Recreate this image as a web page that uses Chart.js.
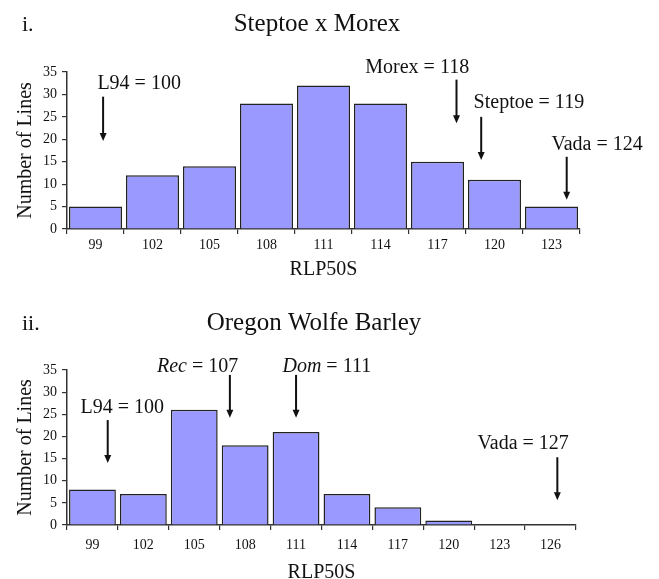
<!DOCTYPE html>
<html><head><meta charset="utf-8">
<script src="https://cdn.jsdelivr.net/npm/chart.js@4.4.1/dist/chart.umd.min.js"></script>
<style>html,body{margin:0;padding:0;background:#fff;overflow:hidden;} canvas{display:block;}</style>
</head><body>
<canvas id="c1" width="659" height="290"></canvas>
<canvas id="c2" width="659" height="300"></canvas>
<script>
// ---- Data: panel i (Steptoe x Morex)
const catsA = ['99','102','105','108','111','114','117','120','123'];
const valsA = [5, 12, 14, 28, 32, 28, 15, 11, 5];
// annotations, panel i (RLP50S value, arrow x in RLP units, text left, text baseline, arrow top/tip in counts)
const annNameA   = ['L94', 'Morex', 'Steptoe', 'Vada'];
const annValueA  = [100, 118, 119, 124];
const annItalicA = [false, false, false, false];
const annArrowXA = [99.4, 118.0, 119.3, 123.8];
const annTextXA  = [99.1, 113.2, 118.9, 123.0];
const annTextYA  = [31.2, 34.75, 27.0, 17.6];
const annTopA    = [29.5, 33.3, 25.0, 16.1];
const annTipA    = [19.6, 23.6, 15.4, 6.5];

// ---- Data: panel ii (Oregon Wolfe Barley)
const catsB = ['99','102','105','108','111','114','117','120','123','126'];
const valsB = [8, 7, 26, 18, 21, 7, 4, 1, 0, 0];
const annNameB   = ['L94', 'Rec', 'Dom', 'Vada'];
const annValueB  = [100, 107, 111, 127];
const annItalicB = [false, true, true, false];
const annArrowXB = [99.9, 107.1, 111.0, 126.4];
const annTextXB  = [98.3, 102.8, 110.2, 121.7];
const annTextYB  = [25.2, 34.6, 34.6, 17.1];
const annTopB    = [23.7, 33.9, 33.9, 15.3];
const annTipB    = [14.0, 24.2, 24.2, 5.6];

const yTickValues = [0, 5, 10, 15, 20, 25, 30, 35];
const binStart = 99, binWidth = 3;

const SERIF = "'Liberation Serif', 'Times New Roman', serif";

const annotPlugin = {
  id: 'annot',
  afterDraw(chart, args, opts) {
    const ctx = chart.ctx;
    const x = chart.scales.x, y = chart.scales.y;
    ctx.save();
    ctx.fillStyle = '#111';
    ctx.textBaseline = 'alphabetic';
    ctx.font = '22px ' + SERIF;
    ctx.textAlign = 'left';
    ctx.fillText(opts.roman, 22, opts.titleY);
    ctx.font = '25px ' + SERIF;
    ctx.textAlign = 'center';
    ctx.fillText(opts.title, opts.titleX, opts.titleY);
    const toPx = v => x.getPixelForValue((v - binStart) / binWidth);
    for (let i = 0; i < opts.names.length; i++) {
      const tx = toPx(opts.textX[i]);
      const ty = y.getPixelForValue(opts.textY[i]);
      ctx.textAlign = 'left';
      ctx.font = (opts.italic[i] ? 'italic ' : '') + '20px ' + SERIF;
      ctx.fillText(opts.names[i], tx, ty);
      const w = ctx.measureText(opts.names[i]).width;
      ctx.font = '20px ' + SERIF;
      ctx.fillText(' = ' + opts.values[i], tx + w, ty);
      const ax = toPx(opts.arrowX[i]);
      const y0 = y.getPixelForValue(opts.top[i]);
      const y1 = y.getPixelForValue(opts.tip[i]);
      ctx.strokeStyle = '#111';
      ctx.lineWidth = 2;
      ctx.beginPath();
      ctx.moveTo(ax, y0);
      ctx.lineTo(ax, y1 - 7);
      ctx.stroke();
      ctx.beginPath();
      ctx.moveTo(ax - 3.5, y1 - 8);
      ctx.lineTo(ax + 3.5, y1 - 8);
      ctx.lineTo(ax, y1);
      ctx.closePath();
      ctx.fill();
    }
    ctx.restore();
  }
};

function makeChart(id, cats, vals, ann, geo) {
  return new Chart(document.getElementById(id), {
    type: 'bar',
    data: {
      labels: cats,
      datasets: [{
        data: vals,
        backgroundColor: '#9999ff',
        borderColor: '#222',
        borderWidth: 1.5,
        barPercentage: geo.barPct,
        categoryPercentage: 1.0
      }]
    },
    options: {
      responsive: false,
      animation: false,
      devicePixelRatio: 1,
      layout: { padding: { top: geo.top, right: geo.right, left: 0, bottom: 0 } },
      plugins: { legend: { display: false }, tooltip: { enabled: false }, title: { display: false },
        annot: ann },
      scales: {
        x: {
          type: 'category',
          offset: true,
          grid: { offset: true, drawOnChartArea: false, drawTicks: true, tickLength: 5, color: '#333', lineWidth: 1.2 },
          border: { display: true, color: '#333', width: 1.5 },
          ticks: { color: '#111', font: { family: SERIF, size: 14 }, padding: geo.xTickPad, maxRotation: 0, autoSkip: false },
          title: { display: true, text: 'RLP50S', color: '#111', font: { family: SERIF, size: 20 }, padding: { top: 0, bottom: geo.xTitlePad } },
          afterFit: s => { s.height = geo.xHeight; }
        },
        y: {
          min: 0, max: 35,
          afterBuildTicks: s => { s.ticks = yTickValues.map(v => ({ value: v })); },
          grid: { drawOnChartArea: false, drawTicks: true, tickLength: 5, color: '#333', lineWidth: 1.2 },
          border: { display: true, color: '#333', width: 1.5 },
          ticks: { color: '#111', font: { family: SERIF, size: 14 }, padding: 5 },
          title: { display: true, text: 'Number of Lines', color: '#111', font: { family: SERIF, size: 20 }, padding: { top: 14, bottom: 0 } },
          afterFit: s => { s.width = 67; }
        }
      }
    },
    plugins: [annotPlugin]
  });
}

makeChart('c1', catsA, valsA, {
  roman: 'i.', title: 'Steptoe x Morex', titleX: 317, titleY: 31,
  names: annNameA, values: annValueA, italic: annItalicA, arrowX: annArrowXA,
  textX: annTextXA, textY: annTextYA, top: annTopA, tip: annTipA
}, { top: 72, right: 79, xHeight: 61, xTickPad: 3, xTitlePad: 8, barPct: 0.93 });

makeChart('c2', catsB, valsB, {
  roman: 'ii.', title: 'Oregon Wolfe Barley', titleX: 314, titleY: 40,
  names: annNameB, values: annValueB, italic: annItalicB, arrowX: annArrowXB,
  textX: annTextXB, textY: annTextYB, top: annTopB, tip: annTipB
}, { top: 80, right: 83, xHeight: 65, xTickPad: 7, xTitlePad: 5, barPct: 0.92 });
</script>
</body></html>
